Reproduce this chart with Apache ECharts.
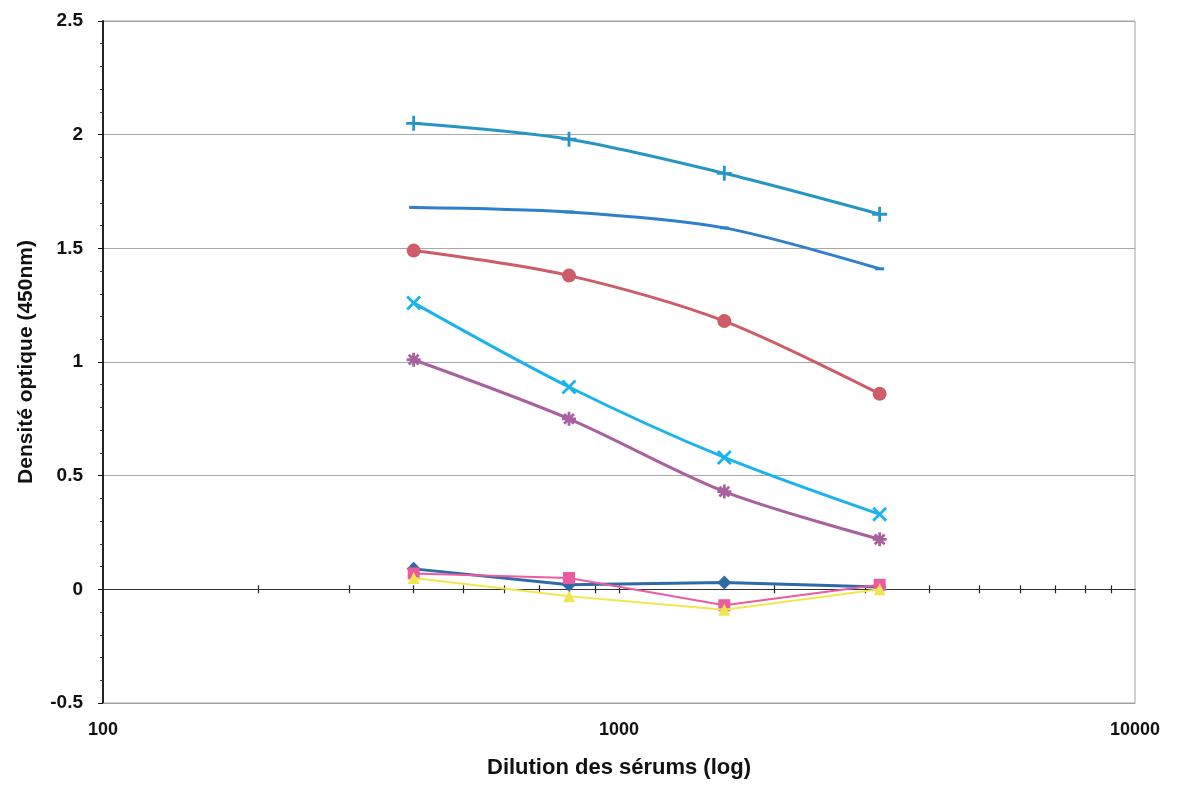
<!DOCTYPE html>
<html>
<head>
<meta charset="utf-8">
<script src="https://cdn.jsdelivr.net/npm/echarts@6/dist/echarts.min.js"></script>
<style>html,body{margin:0;padding:0;background:#fff;}#c{width:1183px;height:787px;}</style>
</head>
<body>
<div id="c"></div>
<script>
// Dilutions (x, log scale)
const dilutions = [400, 800, 1600, 3200];
// Series values (optical density at 450nm)
const sDiamond  = [0.09, 0.02, 0.03, 0.01];
const sSquare   = [0.07, 0.05, -0.07, 0.02];
const sTriangle = [0.05, -0.03, -0.09, 0.0];
const sCross    = [1.26, 0.89, 0.58, 0.33];
const sStar     = [1.01, 0.75, 0.43, 0.22];
const sCircle   = [1.49, 1.38, 1.18, 0.86];
const sPlus     = [2.05, 1.98, 1.83, 1.65];
const sDash     = [1.68, 1.66, 1.59, 1.41];
// Minor tick values on the x axis line (at y = 0)
const minorTicks = [200,300,400,500,600,700,800,900,1000,2000,3000,4000,5000,6000,7000,8000,9000];

const FONT = '"Liberation Sans", Arial, sans-serif';
function pts(vals){ return dilutions.map((d,i)=>[d, vals[i]]); }

const P_PLUS = 'path://M5,0L5,10M0,5L10,5';
const P_X = 'path://M0,0L10,10M10,0L0,10';
const P_STAR = 'path://M5,0L5,10M0,5L10,5M1.5,1.5L8.5,8.5M8.5,1.5L1.5,8.5';

function mk(name, vals, color, symbol, size, opts){
  opts = opts || {};
  return {
    name, type:'line', xAxisIndex:0, yAxisIndex:0,
    data: pts(vals),
    smooth: opts.smooth || false,
    symbol, symbolSize: size,
    showAllSymbol: true,
    lineStyle: {color, width: opts.lw || 3},
    itemStyle: opts.stroke ? {color: color, borderColor: color, borderWidth: 2.8} : {color, borderWidth: 0},
    z: opts.z || 2,
    emphasis: {disabled: true}
  };
}

const chart = echarts.init(document.getElementById('c'), null, {renderer:'canvas'});
chart.setOption({
  animation: false,
  backgroundColor: '#fff',
  grid: {left:103, right:48, top:21, bottom:84, show:true, borderColor:'#a0a0a0', borderWidth:1},
  xAxis: [
    {
      type:'log', logBase:10, min:100, max:10000, position:'bottom',
      axisLine:{onZero:false, lineStyle:{color:'#a0a0a0', width:1}},
      axisTick:{show:false}, splitLine:{show:false}, minorTick:{show:false},
      axisLabel:{color:'#111', fontFamily:FONT, fontWeight:'bold', fontSize:18, margin:18, formatter: v => String(v)},
      name:'Dilution des sérums (log)', nameLocation:'middle', nameGap:54,
      nameTextStyle:{color:'#111', fontFamily:FONT, fontWeight:'bold', fontSize:22}
    },
    {
      type:'log', logBase:10, min:100, max:10000, position:'bottom',
      axisLine:{onZero:true, onZeroAxisIndex:0, lineStyle:{color:'#333', width:1}},
      axisTick:{show:true, customValues:minorTicks, length:4, lineStyle:{color:'#222', width:1.2}},
      axisLabel:{show:false}, splitLine:{show:false}
    },
    {
      type:'log', logBase:10, min:100, max:10000, position:'top',
      axisLine:{onZero:true, onZeroAxisIndex:0, lineStyle:{color:'#333', width:1}},
      axisTick:{show:true, customValues:minorTicks, length:4, lineStyle:{color:'#222', width:1.2}},
      axisLabel:{show:false}, splitLine:{show:false}
    }
  ],
  yAxis: {
    type:'value', min:-0.5, max:2.5, interval:0.5,
    axisLine:{show:true, onZero:false, lineStyle:{color:'#111', width:1.8}},
    axisTick:{show:true, length:5, lineStyle:{color:'#111'}},
    minorTick:{show:true, splitNumber:5, length:3, lineStyle:{color:'#333'}},
    splitLine:{show:true, lineStyle:{color:'#a8a8a8', width:1}},
    axisLabel:{color:'#111', fontFamily:FONT, fontWeight:'bold', fontSize:19, margin:20},
    name:'Densité optique (450nm)', nameLocation:'middle', nameGap:66,
    nameTextStyle:{color:'#111', fontFamily:FONT, fontWeight:'bold', fontSize:21}
  },
  series: [
    mk('S1', sDiamond, '#2f6aa8', 'diamond', 14, {lw:3, z:3}),
    mk('S2', sSquare, '#ec5aa0', 'rect', 12, {lw:2, z:4}),
    mk('S3', sTriangle, '#f2e650', 'triangle', 12, {lw:2, z:5}),
    mk('S4', sCross, '#1ab4ec', P_X, 13, {stroke:true, smooth:0.3}),
    mk('S5', sStar, '#a8609f', P_STAR, 14, {stroke:true, smooth:0.3}),
    mk('S6', sCircle, '#cd5c68', 'circle', 14, {smooth:0.3}),
    mk('S7', sPlus, '#2596c4', P_PLUS, 15, {stroke:true, smooth:0.3}),
    mk('S8', sDash, '#2f7fcc', 'rect', [9,3], {smooth:0.3})
  ]
});
</script>
</body>
</html>
